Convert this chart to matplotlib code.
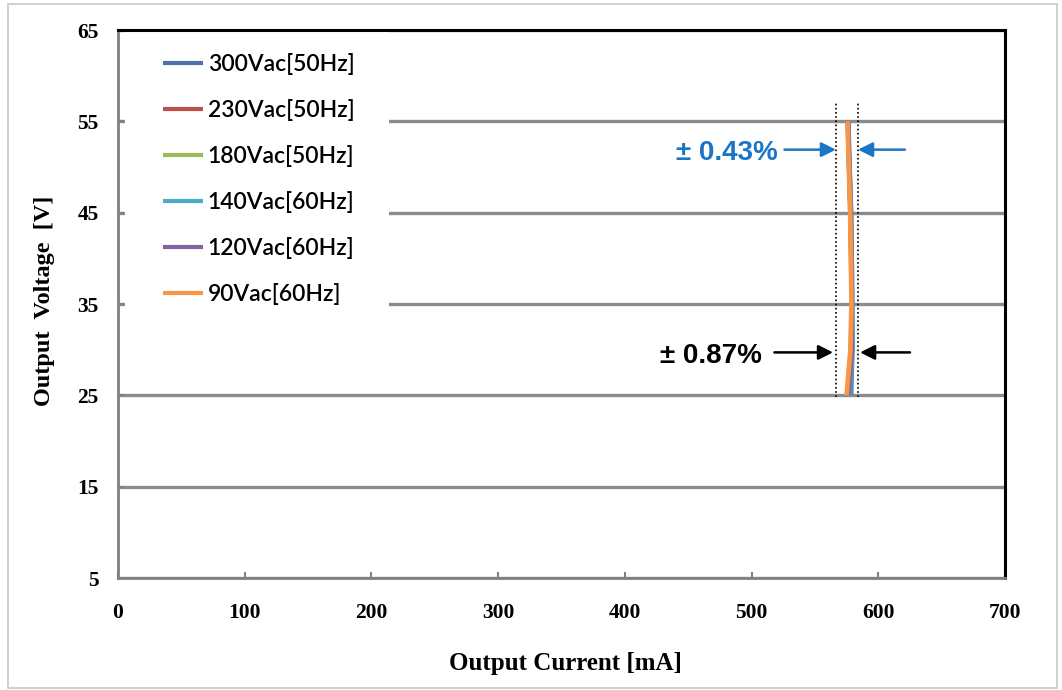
import matplotlib
matplotlib.use("Agg")
import matplotlib.pyplot as plt
from matplotlib.patches import Rectangle

# ---- data ----
voltage = [25, 27.5, 30, 35, 40, 45, 50, 52, 55]
series_labels = ["300Vac[50Hz]", "230Vac[50Hz]", "180Vac[50Hz]",
                 "140Vac[60Hz]", "120Vac[60Hz]", "90Vac[60Hz]"]
cur_300 = [578.5, 579.0, 579.5, 579.3, 579.0, 578.5, 577.3, 576.8, 576.5]
cur_230 = [575.5, 577.0, 578.5, 579.0, 578.6, 578.0, 577.0, 576.5, 576.0]
cur_180 = [576.0, 577.5, 578.8, 579.0, 578.7, 578.2, 577.0, 576.5, 576.2]
cur_140 = [577.5, 578.6, 579.5, 579.4, 579.0, 578.4, 577.2, 576.8, 576.4]
cur_120 = [576.5, 577.8, 579.0, 579.1, 578.8, 578.2, 577.1, 576.6, 576.2]
cur_90 = [575.0, 576.5, 578.0, 578.8, 578.4, 577.8, 576.8, 576.3, 575.8]
currents = [cur_300, cur_230, cur_180, cur_140, cur_120, cur_90]
colors = ["#4F6FA8", "#C0504D", "#9BBB59", "#4BACC6", "#8064A2", "#F79646"]

x_ticks = [0, 100, 200, 300, 400, 500, 600, 700]
y_ticks = [5, 15, 25, 35, 45, 55, 65]

band_lo, band_hi = 566.6, 584.0
band_v = (24.8, 57.0)

fig = plt.figure(figsize=(10.62, 6.90), dpi=100)
fig.patches.append(Rectangle((8/1062, 2/690), 1049/1062, 684/690, transform=fig.transFigure,
                             fill=False, edgecolor="#c8c8c8", lw=1.2))
ax = fig.add_axes([118/1062, 1-578/690, 887/1062, 548/690])

ax.set_xlim(0, 700)
ax.set_ylim(5, 65)
ax.set_xticks(x_ticks)
ax.set_yticks(y_ticks)
ax.set_axisbelow(True)
ax.yaxis.grid(True, color="#8c8c8c", lw=2.4)
ax.xaxis.grid(False)

# white area behind legend (covers gridlines)
ax.add_patch(Rectangle((0.008, 0.45), 0.2975, 0.55, transform=ax.transAxes,
                       facecolor="white", edgecolor="none", zorder=1))

for cur, lab, c in zip(currents, series_labels, colors):
    ax.plot(cur, voltage, color=c, lw=3.4, label=lab, zorder=3, solid_capstyle="butt")

for xv in (band_lo, band_hi):
    ax.plot([xv, xv], band_v, color="black", lw=1.2, ls=(0, (1, 1.5)), zorder=4)

blue = "#1B75C6"
y_blue = 51.9
y_black = 29.7
ap = dict(arrowstyle="-|>", lw=1.8, mutation_scale=22, shrinkA=0, shrinkB=0)
ax.annotate("", xy=(band_lo, y_blue), xytext=(526, y_blue), arrowprops=dict(ap, color=blue), zorder=5)
ax.annotate("", xy=(band_hi, y_blue), xytext=(621, y_blue), arrowprops=dict(ap, color=blue), zorder=5)
ax.annotate("", xy=(564.3, y_black), xytext=(518, y_black), arrowprops=dict(ap, color="black"), zorder=5)
ax.annotate("", xy=(585.6, y_black), xytext=(625, y_black), arrowprops=dict(ap, color="black"), zorder=5)
ax.text(521, 51.5, "± 0.43%", color=blue, fontsize=20, fontweight="bold",
        family="Liberation Sans", ha="right", va="center", zorder=5)
ax.text(508, 29.3, "± 0.87%", color="black", fontsize=20, fontweight="bold",
        family="Liberation Sans", ha="right", va="center", zorder=5)

for s in ("left", "bottom"):
    ax.spines[s].set_color("#808080")
    ax.spines[s].set_linewidth(2.0)
for s in ("top", "right"):
    ax.spines[s].set_color("black")
    ax.spines[s].set_linewidth(2.2)

ax.tick_params(axis="both", direction="in", length=4, width=1.5, color="#808080")
ax.tick_params(axis="x", pad=18)
ax.tick_params(axis="y", pad=14)
for lbl in ax.get_xticklabels() + ax.get_yticklabels():
    lbl.set_family("Liberation Serif")
    lbl.set_fontweight("bold")
    lbl.set_fontsize(15.5)

ax.set_xlabel("Output Current [mA]", family="Liberation Serif", fontweight="bold", fontsize=18)
ax.xaxis.set_label_coords(0.505, -0.135)
ax.set_ylabel("Output  Voltage  [V]", family="Liberation Serif", fontweight="bold", fontsize=17.5)
ax.yaxis.set_label_coords(-0.071, 0.505)

leg = ax.legend(loc="upper left", bbox_to_anchor=(0.04, 0.975), frameon=False,
                prop=dict(family="Lato", size=16.5, weight="semibold"), handlelength=1.75,
                handletextpad=0.22, labelspacing=1.05, borderaxespad=0)
for h in leg.get_lines():
    h.set_linewidth(3)

fig.savefig("out.png", dpi=100)
